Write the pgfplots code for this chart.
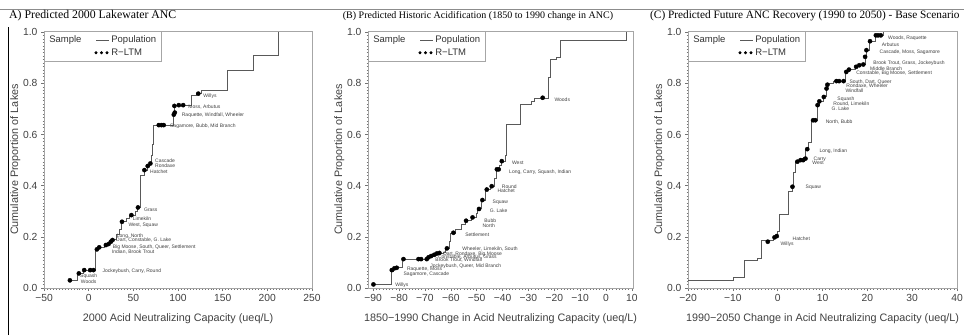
\documentclass[border=0pt]{standalone}
\usepackage{pgfplots}
\pgfplotsset{compat=1.18}
\usepackage{pgfplotstable}
\usepackage{fontspec}
\setmainfont{Liberation Sans}
\newfontfamily\titlefont{Liberation Serif}

\pgfplotstableread{
x y
-22 0.03
-13 0.057
-6 0.07
7.5 0.15
11.5 0.16
18 0.168
22 0.175
24.5 0.181
26.5 0.188
31 0.21
34 0.23
37 0.26
42 0.27
46 0.285
52 0.30
55 0.315
58 0.44
62 0.46
65.5 0.477
68.5 0.487
70 0.52
72 0.56
72.5 0.637
94.5 0.678
95.5 0.69
96 0.715
115.3 0.754
121 0.76
126 0.773
155 0.852
185 0.91
213 1.0
}\popA

\pgfplotstableread{
x y
-21 0.03
-11 0.057
-5 0.07
1.7 0.07
5.4 0.07
9.2 0.151
11.8 0.159
19.3 0.168
22.3 0.172
24.9 0.181
26.7 0.1875
37.3 0.259
47.8 0.285
55.2 0.315
62.4 0.461
66.1 0.477
69.1 0.487
78.5 0.637
81.5 0.637
84 0.637
95.3 0.678
96.4 0.686
96 0.712
100.9 0.715
105.8 0.715
122.7 0.76
}\smpA

\pgfplotstableread{
x y
-90 0.014
-83 0.065
-82 0.075
-81 0.08
-78.5 0.113
-68.8 0.118
-67.5 0.125
-66.5 0.13
-65.5 0.135
-63 0.14
-62 0.155
-60.5 0.18
-60 0.215
-58 0.23
-56 0.25
-54.5 0.263
-52 0.277
-50 0.29
-49.5 0.31
-48 0.344
-46.5 0.385
-44.5 0.398
-43 0.43
-42.5 0.464
-41 0.48
-40.5 0.496
-39 0.52
-38.4 0.639
-33.2 0.719
-28.7 0.73
-27.5 0.741
-22.3 0.822
-21.3 0.893
-19.1 0.9
-17.8 0.969
7.7 1.0
}\popB

\pgfplotstableread{
x y
-89.9 0.014
-82.8 0.07
-81.8 0.077
-80.9 0.079
-78.3 0.113
-72.5 0.113
-71.5 0.113
-69.3 0.113
-68.6 0.12
-67.6 0.125
-66.4 0.13
-65.4 0.135
-64.4 0.137
-61.5 0.155
-59 0.216
-54.1 0.263
-51.6 0.276
-49.1 0.309
-47.8 0.344
-46.1 0.385
-44.2 0.398
-42.2 0.464
-41.5 0.464
-40.3 0.496
-24.5 0.744
}\smpB

\pgfplotstableread{
x y
-20 0.031
-9.8 0.04
-7.3 0.107
-4.6 0.116
-3.5 0.185
-1 0.198
-0.2 0.205
0.0 0.22
0.4 0.288
2.4 0.376
3.3 0.396
3.6 0.45
4.0 0.494
5.0 0.5
5.8 0.51
6.3 0.54
6.8 0.57
7.6 0.656
8.8 0.715
9.3 0.73
10.2 0.747
10.8 0.78
11.1 0.8
12.5 0.809
15.2 0.845
16 0.856
17.3 0.865
18.2 0.874
19.5 0.904
19.8 0.93
20.5 0.965
21.8 0.988
23.5 1.0
}\popC

\pgfplotstableread{
x y
-2.2 0.181
-0.7 0.198
-0.2 0.203
3.3 0.396
4.4 0.494
5.1 0.5
5.7 0.5
6.2 0.506
6.6 0.543
7.9 0.656
8.4 0.656
8.9 0.715
9.3 0.73
10.3 0.747
10.9 0.78
11.1 0.795
13.1 0.809
13.7 0.809
14.7 0.809
15.3 0.845
15.9 0.854
17.5 0.865
18.2 0.871
19.1 0.874
19.5 0.904
19.8 0.93
20.6 0.965
21.9 0.988
22.4 0.988
23 0.988
}\smpC

\tikzset{lab/.style={anchor=west, font=\fontsize{5}{5}\selectfont, inner sep=0pt, text=black!75}}

\pgfplotsset{
  panel/.style={
    scale only axis, height=257pt,
    ymin=0, ymax=1.005,
    ytick={0,0.2,0.4,0.6,0.8,1.0},
    yticklabels={0.0,0.2,0.4,0.6,0.8,1.0},
    axis line style={black!35, line width=0.6pt},
    every tick/.style={black!55, line width=0.5pt},
    tick align=outside,
    xtick pos=left, ytick pos=left,
    major tick length=3pt, minor tick length=1.5pt,
    minor y tick num=14,
    tick label style={font=\fontsize{10.3}{12}\selectfont, text=black!75},
    label style={font=\fontsize{10.8}{12}\selectfont, text=black!75},
    xlabel style={yshift=-5pt},
    ylabel shift=-4pt,
    ylabel={Cumulative Proportion of Lakes},
    legend cell align=left,
    legend style={at={(0,1)}, anchor=north west, draw=black!35, line width=0.6pt,
      font=\fontsize{9.5}{11}\selectfont, text=black!80, legend columns=2,
      inner xsep=3pt, inner ysep=2.5pt, row sep=0.5pt,
      /tikz/every even column/.append style={column sep=11pt}},
  },
  poplegend/.style={legend image code/.code={\draw[black!65, line width=0.7pt] (0pt,0pt) -- (13pt,0pt);}},
  dotlegend/.style={legend image code/.code={\fill[black] (0pt,0pt) circle (1.2pt); \fill[black] (5.5pt,0pt) circle (1.2pt); \fill[black] (11pt,0pt) circle (1.2pt);}},
  pop/.style={const plot, black!65, line width=1pt, forget plot},
  smp/.style={only marks, mark=*, mark size=2.1pt, black, forget plot},
}

\begin{document}
\begin{tikzpicture}
\useasboundingbox (0,0) rectangle (964pt,335pt);
\clip (0,0) rectangle (964pt,335pt);

\draw[black!45, line width=0.8pt] (0,326pt) -- (964pt,326pt);
\draw[black, line width=0.8pt] (8.5pt,0) -- (8.5pt,308pt);

\node[anchor=base west, font=\titlefont\fontsize{11.8}{13}\selectfont, inner sep=0pt] at (9pt,316.5pt) {A) Predicted 2000 Lakewater ANC};
\node[anchor=base, font=\titlefont\fontsize{10}{12}\selectfont, inner sep=0pt] at (478pt,316.5pt) {(B) Predicted Historic Acidification (1850 to 1990 change in ANC)};
\node[anchor=base west, font=\titlefont\fontsize{11.3}{13}\selectfont, inner sep=0pt] at (650pt,316.5pt) {(C) Predicted Future ANC Recovery (1990 to 2050) - Base Scenario};

% Panel A
\begin{axis}[panel, at={(44pt,47pt)}, anchor=south west, width=268pt,
  xmin=-50, xmax=250, xtick={-50,0,50,100,150,200,250},
  xticklabels={−50,0,50,100,150,200,250}, minor x tick num=14,
  xlabel={2000 Acid Neutralizing Capacity (ueq/L)}]
\addlegendimage{empty legend}\addlegendentry{Sample}
\addlegendimage{poplegend}\addlegendentry{Population}
\addlegendimage{empty legend}\addlegendentry{}
\addlegendimage{dotlegend}\addlegendentry{R−LTM}
\addplot[pop] table {\popA};
\addplot[smp] table {\smpA};
\node[lab] at (axis cs:-8.9,0.025) {Woods};
\node[lab] at (axis cs:-9.7,0.048) {Squash};
\node[lab] at (axis cs:15.3,0.064) {Jockeybush, Carry, Round};
\node[lab] at (axis cs:31.4,0.202) {Long, North};
\node[lab] at (axis cs:30.6,0.186) {Dart, Constable, G. Lake};
\node[lab] at (axis cs:26.9,0.161) {Big Moose, South, Queer, Settlement};
\node[lab] at (axis cs:25.8,0.139) {Indian, Brook Trout};
\node[lab] at (axis cs:44.4,0.246) {West, Squaw};
\node[lab] at (axis cs:49.3,0.271) {Limekiln};
\node[lab] at (axis cs:61.9,0.307) {Grass};
\node[lab] at (axis cs:74.3,0.496) {Cascade};
\node[lab] at (axis cs:74.3,0.477) {Rondaxe};
\node[lab] at (axis cs:68.7,0.456) {Hatchet};
\node[lab] at (axis cs:91,0.633) {Sagamore, Bubb, Mid Branch};
\node[lab] at (axis cs:104.1,0.676) {Raquette, Windfall, Wheeler};
\node[lab] at (axis cs:111.5,0.708) {Moss, Arbutus};
\node[lab] at (axis cs:128.3,0.751) {Willys};
\end{axis}

% Panel B
\begin{axis}[panel, at={(368pt,47pt)}, anchor=south west, width=265pt,
  xmin=-92, xmax=10.4, xtick={-90,-80,...,10},
  xticklabels={−90,−80,−70,−60,−50,−40,−30,−20,−10,0,10}, minor x tick num=7,
  xlabel={1850−1990 Change in Acid Neutralizing Capacity (ueq/L)}]
\addlegendimage{empty legend}\addlegendentry{Sample}
\addlegendimage{poplegend}\addlegendentry{Population}
\addlegendimage{empty legend}\addlegendentry{}
\addlegendimage{dotlegend}\addlegendentry{R−LTM}
\addplot[pop] table {\popB};
\addplot[smp] table {\smpB};
\node[lab] at (axis cs:-81.5,0.012) {Willys};
\node[lab] at (axis cs:-78.3,0.053) {Sagamore, Cascade};
\node[lab] at (axis cs:-77,0.073) {Raquette, Moss};
\node[lab] at (axis cs:-55.6,0.151) {Wheeler, Limekiln, South};
\node[lab] at (axis cs:-63,0.134) {Dart, Rondaxe, Big Moose};
\node[lab] at (axis cs:-65,0.121) {Constable, Arbutus, Grass};
\node[lab] at (axis cs:-66,0.108) {Brook Trout, Windfall};
\node[lab] at (axis cs:-68,0.087) {Jockeybush, Queer, Mid Branch};
\node[lab] at (axis cs:-54.5,0.207) {Settlement};
\node[lab] at (axis cs:-47.8,0.243) {North};
\node[lab] at (axis cs:-47.1,0.262) {Bubb};
\node[lab] at (axis cs:-45,0.301) {G. Lake};
\node[lab] at (axis cs:-43.9,0.336) {Squaw};
\node[lab] at (axis cs:-40.3,0.398) {Round};
\node[lab] at (axis cs:-42,0.38) {Hatchet};
\node[lab] at (axis cs:-37.5,0.454) {Long, Carry, Squash, Indian};
\node[lab] at (axis cs:-36.4,0.49) {West};
\node[lab] at (axis cs:-20,0.737) {Woods};
\end{axis}

% Panel C
\begin{axis}[panel, at={(688pt,47pt)}, anchor=south west, width=269pt,
  xmin=-20, xmax=40, xtick={-20,-10,...,40},
  xticklabels={−20,−10,0,10,20,30,40}, minor x tick num=13,
  xlabel={1990−2050 Change in Acid Neutralizing Capacity (ueq/L)}]
\addlegendimage{empty legend}\addlegendentry{Sample}
\addlegendimage{poplegend}\addlegendentry{Population}
\addlegendimage{empty legend}\addlegendentry{}
\addlegendimage{dotlegend}\addlegendentry{R−LTM}
\addplot[pop] table {\popC};
\addplot[smp] table {\smpC};
\node[lab] at (axis cs:0.6,0.172) {Willys};
\node[lab] at (axis cs:3.3,0.194) {Hatchet};
\node[lab] at (axis cs:6.2,0.392) {Squaw};
\node[lab] at (axis cs:8.0,0.503) {Carry};
\node[lab] at (axis cs:7.7,0.488) {West};
\node[lab] at (axis cs:9.3,0.535) {Long, Indian};
\node[lab] at (axis cs:10.7,0.65) {North, Bubb};
\node[lab] at (axis cs:12,0.702) {G. Lake};
\node[lab] at (axis cs:12.4,0.719) {Round, Limekiln};
\node[lab] at (axis cs:13.3,0.738) {Squash};
\node[lab] at (axis cs:15.1,0.77) {Windfall};
\node[lab] at (axis cs:15.3,0.789) {Rondaxe, Wheeler};
\node[lab] at (axis cs:16,0.806) {South, Dart, Queer};
\node[lab] at (axis cs:17.5,0.841) {Constable, Big Moose, Settlement};
\node[lab] at (axis cs:20.6,0.858) {Middle Branch};
\node[lab] at (axis cs:21.3,0.878) {Brook Trout, Grass, Jockeybush};
\node[lab] at (axis cs:22.7,0.923) {Cascade, Moss, Sagamore};
\node[lab] at (axis cs:23.2,0.952) {Arbutus};
\node[lab] at (axis cs:24.6,0.978) {Woods, Raquette};
\end{axis}
\end{tikzpicture}
\end{document}
